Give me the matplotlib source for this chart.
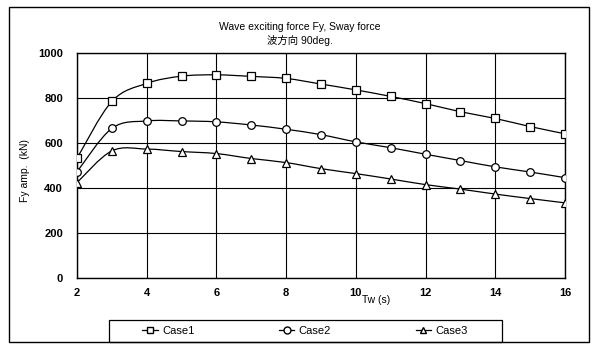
import numpy as np
import matplotlib
matplotlib.use("Agg")
import matplotlib.pyplot as plt
from matplotlib.path import Path
from matplotlib.patches import PathPatch, Rectangle
from matplotlib.lines import Line2D

tw = [2, 3, 4, 5, 6, 7, 8, 9, 10, 11, 12, 13, 14, 15, 16]
case1 = [532, 785, 865, 897, 903, 896, 887, 862, 836, 807, 775, 739, 709, 673, 641]
case2 = [472, 665, 698, 698, 694, 680, 661, 637, 605, 579, 550, 522, 494, 471, 446]
case3 = [424, 565, 573, 562, 553, 531, 513, 486, 464, 440, 415, 395, 373, 353, 334]
series_names = ["Case1", "Case2", "Case3"]
markers = ["s", "o", "^"]
xticks = [2, 4, 6, 8, 10, 12, 14, 16]
yticks = [0, 200, 400, 600, 800, 1000]

fam = ["Liberation Sans", "Noto Sans CJK JP"]
plt.rcParams["font.family"] = fam

fig = plt.figure(figsize=(6.0, 3.51), dpi=100)
ax = fig.add_axes([77/600, 1-278/351, (565-77)/600, (278-53)/351])

def smooth_path(x, y, t=1/6):
    # Excel-like smoothed line: cubic Bezier segments with Catmull-Rom tangents
    x = np.asarray(x, float); y = np.asarray(y, float)
    verts = [(x[0], y[0])]; codes = [Path.MOVETO]
    n = len(x)
    for i in range(n - 1):
        p0 = (x[i-1], y[i-1]) if i > 0 else (x[i], y[i])
        p1 = (x[i], y[i]); p2 = (x[i+1], y[i+1])
        p3 = (x[i+2], y[i+2]) if i + 2 < n else (x[i+1], y[i+1])
        c1 = (p1[0] + (p2[0]-p0[0])*t, p1[1] + (p2[1]-p0[1])*t)
        c2 = (p2[0] - (p3[0]-p1[0])*t, p2[1] - (p3[1]-p1[1])*t)
        verts += [c1, c2, p2]; codes += [Path.CURVE4]*3
    return Path(verts, codes)

for vals, m, name in zip([case1, case2, case3], markers, series_names):
    ax.add_patch(PathPatch(smooth_path(tw, vals), fill=False, edgecolor="black", lw=0.9, zorder=3))
    ax.plot(tw, vals, linestyle="none", marker=m, markersize=5.5, markerfacecolor="white",
            markeredgecolor="black", markeredgewidth=0.9, zorder=4)

ax.set_xlim(2, 16)
ax.set_ylim(0, 1000)
ax.set_xticks(xticks)
ax.set_yticks(yticks)
ax.grid(True, color="black", lw=0.8)
ax.set_axisbelow(True)
ax.tick_params(axis="x", length=0, labelsize=8, pad=7)
ax.tick_params(axis="y", length=0, labelsize=8, pad=10)
for lab in ax.get_xticklabels() + ax.get_yticklabels():
    lab.set_fontweight("bold")
for s in ax.spines.values():
    s.set_linewidth(1.0)

ax.set_ylabel("Fy amp.  (kN)", fontsize=7.5)
ax.yaxis.set_label_coords(-0.096, 0.48)
fig.text(376/600, 1-300/351, "Tw (s)", fontsize=7.5, ha="center", va="center")

fig.text(300/600, 1-27/351, "Wave exciting force Fy, Sway force", fontsize=7.5, ha="center", va="center", family=fam)
fig.text(300/600, 1-40/351, "波方向 90deg.", fontsize=7.5, ha="center", va="center", family=fam)

# outer frame
fig.add_artist(Rectangle((9/600, 1-342/351), (589-9)/600, (342-7)/351, transform=fig.transFigure,
                         fill=False, edgecolor="black", lw=1.0))
# legend frame
fig.add_artist(Rectangle((109/600, 1-342/351), (502-109)/600, (342-320)/351, transform=fig.transFigure,
                         fill=False, edgecolor="black", lw=0.9))

handles = [Line2D([], [], color="black", lw=0.9, marker=m, markersize=5, markerfacecolor="white",
                  markeredgecolor="black") for m in markers]
leg = fig.legend(handles, series_names, loc="center", bbox_to_anchor=(305/600, 1-331/351),
                 ncol=3, frameon=False, fontsize=8, handlelength=1.4,
                 borderaxespad=0, handletextpad=0.4, columnspacing=7.6, borderpad=0)

fig.savefig("out.png", dpi=100)
